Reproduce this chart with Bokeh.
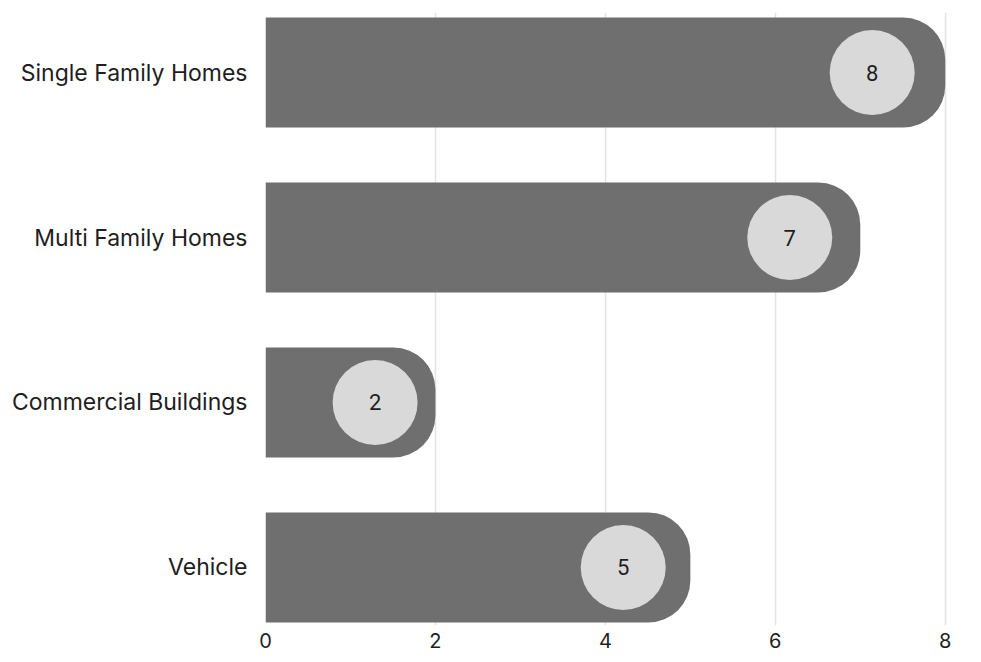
from bokeh.plotting import figure
from bokeh.models import Range1d, FixedTicker, ColumnDataSource
from bokeh.core.properties import value
from bokeh.embed import file_html
from bokeh.resources import INLINE

categories = ["Single Family Homes", "Multi Family Homes", "Commercial Buildings", "Vehicle"]
counts = [8, 7, 2, 5]
label_pos = [7.14, 6.17, 1.29, 4.21]
x_ticks = [0, 2, 4, 6, 8]

n = len(categories)
ypos = [n - 1 - i for i in range(n)]

src = ColumnDataSource(dict(y=ypos, v=counts, cx=label_pos, lab=[str(c) for c in counts]))

p = figure(width=973, height=654, output_backend="svg", toolbar_location=None,
           x_range=Range1d(0, 8.25), y_range=Range1d(-0.352, 3.364),
           min_border_left=265, min_border_right=7, min_border_top=12, min_border_bottom=29)
p.outline_line_color = None
p.background_fill_color = "white"

p.hbar(y="y", left=0, right="v", height=0.667, source=src, fill_color="#6f6f6f",
       line_color=None, border_radius=(0, 42, 42, 0))
p.scatter(x="cx", y="y", size=85, marker="circle", source=src, fill_color="#d9d9d9", line_color=None)
p.text(x="cx", y="y", text="lab", source=src, text_align="center", text_baseline="middle",
       text_font=value("Roboto"), text_font_size="22px", text_color="#1e1e1e")

p.xgrid.ticker = FixedTicker(ticks=x_ticks)
p.xgrid.grid_line_color = "#e3e3e3"
p.xgrid.grid_line_width = 1.5
p.ygrid.grid_line_color = None

p.xaxis.ticker = FixedTicker(ticks=x_ticks)
p.xaxis.axis_line_color = None
p.xaxis.major_tick_line_color = None
p.xaxis.minor_tick_line_color = None
p.xaxis.major_label_text_font = "Inter"
p.xaxis.major_label_text_font_size = "20px"
p.xaxis.major_label_text_color = "#1e1e1e"
p.xaxis.major_label_standoff = 1

p.yaxis.ticker = FixedTicker(ticks=ypos)
p.yaxis.major_label_overrides = {y: c for y, c in zip(ypos, categories)}
p.yaxis.axis_line_color = None
p.yaxis.major_tick_line_color = None
p.yaxis.minor_tick_line_color = None
p.yaxis.major_label_text_font = "Inter"
p.yaxis.major_label_text_font_size = "23px"
p.yaxis.major_label_text_color = "#1e1e1e"
p.yaxis.major_label_standoff = 12

open("out.html", "w").write(file_html(p, INLINE))
